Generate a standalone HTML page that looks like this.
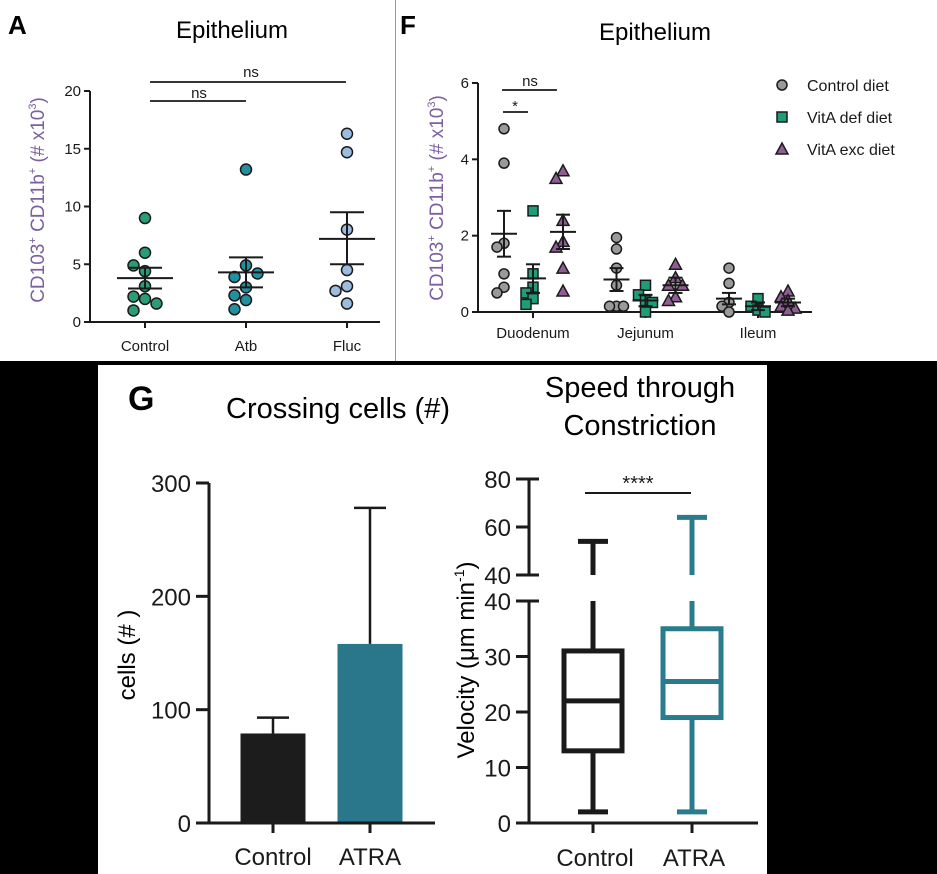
<!DOCTYPE html>
<html><head><meta charset="utf-8"><style>
html,body{margin:0;padding:0;background:#000;}
svg{display:block;font-family:"Liberation Sans",Arial,sans-serif;}
</style></head><body>
<svg id="fig" width="937" height="874" viewBox="0 0 937 874" xmlns="http://www.w3.org/2000/svg">
<rect x="0" y="0" width="937" height="874" fill="#000"/>
<rect x="0" y="0" width="937" height="361" fill="#fff"/>
<line x1="395.5" y1="0" x2="395.5" y2="361" stroke="#999" stroke-width="1"/>
<rect x="98" y="365" width="669" height="509" fill="#fff"/>

<text x="8" y="34" font-size="26" font-weight="bold">A</text>
<text x="232" y="38" font-size="24" text-anchor="middle">Epithelium</text>
<text transform="translate(44,200) rotate(-90)" font-size="19" fill="#7b5fa0" text-anchor="middle">CD103<tspan font-size="11" dy="-8">+</tspan><tspan dy="8"> CD11b</tspan><tspan font-size="11" dy="-8">+</tspan><tspan dy="8"> (# x10</tspan><tspan font-size="11" dy="-8">3</tspan><tspan dy="8">)</tspan></text>

<text x="400" y="34" font-size="26" font-weight="bold">F</text>
<text x="655" y="40" font-size="24" text-anchor="middle">Epithelium</text>
<text transform="translate(443,198) rotate(-90)" font-size="19" fill="#7b5fa0" text-anchor="middle">CD103<tspan font-size="11" dy="-8">+</tspan><tspan dy="8"> CD11b</tspan><tspan font-size="11" dy="-8">+</tspan><tspan dy="8"> (# x10</tspan><tspan font-size="11" dy="-8">3</tspan><tspan dy="8">)</tspan></text>

<text x="128" y="410" font-size="34" font-weight="bold">G</text>
<text x="338" y="418" font-size="29" text-anchor="middle">Crossing cells (#)</text>
<text x="640" y="397" font-size="29" text-anchor="middle">Speed through</text>
<text x="640" y="435" font-size="29" text-anchor="middle">Constriction</text>
<text transform="translate(135,655) rotate(-90)" font-size="24" text-anchor="middle">cells (# )</text>
<text transform="translate(474,660) rotate(-90)" font-size="24" text-anchor="middle">Velocity (μm min<tspan font-size="14" dy="-10">-1</tspan><tspan dy="10">)</tspan></text>
<g id="plots"></g>
</svg>
<script>
// ---------- Panel A data ----------
const aCategories = ["Control","Atb","Fluc"];
const aValues = [
  [9,6,4.9,4.4,3.1,2.2,2.0,1.6,1.0],
  [13.2,4.9,3.9,4.2,3.0,2.3,1.9,1.1],
  [16.3,14.7,8.0,4.5,3.1,2.7,1.6]
];
const aMeans = [3.8,4.3,7.2];
const aSemHi = [4.7,5.6,9.5];
const aSemLo = [2.9,3.0,5.0];
const aTicks = [0,5,10,15,20];
// ---------- Panel F data ----------
const fCategories = ["Duodenum","Jejunum","Ileum"];
const fSeries = ["Control diet","VitA def diet","VitA exc diet"];
const fControl = [[4.8,3.9,1.8,1.7,1.0,0.65,0.5],[1.95,1.65,1.15,0.7,0.15,0.15,0.15],[1.15,0.75,0.25,0.15,0.0]];
const fDef = [[2.65,1.0,0.65,0.5,0.35,0.2],[0.7,0.45,0.3,0.25,0.0],[0.35,0.15,0.05,0.0]];
const fExc = [[3.7,3.5,2.4,1.85,1.7,1.15,0.55],[1.25,0.9,0.7,0.7,0.4,0.3],[0.55,0.4,0.3,0.15,0.1,0.05]];
const fMeans = [[2.05,0.88,2.1],[0.85,0.3,0.7],[0.35,0.15,0.25]];
const fSemHi = [[2.65,1.25,2.55],[1.15,0.45,0.9],[0.5,0.25,0.35]];
const fSemLo = [[1.45,0.5,1.65],[0.55,0.15,0.5],[0.2,0.05,0.15]];
const fTicks = [0,2,4,6];
// ---------- Panel G data ----------
const gCategories = ["Control","ATRA"];
const gBarValues = [79,158];
const gBarErr = [93,278];
const gBarTicks = [0,100,200,300];
const gBoxMin = [2,2];
const gBoxQ1 = [13,19];
const gBoxMed = [22,25.5];
const gBoxQ3 = [31,35];
const gBoxMax = [54,64];
const gLowTicks = [0,10,20,30,40];
const gHighTicks = [40,60,80];

const NS="http://www.w3.org/2000/svg";
const root=document.getElementById('plots');
function mk(tag,attrs,parent){const e=document.createElementNS(NS,tag);for(const k in attrs)e.setAttribute(k,attrs[k]);(parent||root).appendChild(e);return e;}
function line(x1,y1,x2,y2,w,c,p){return mk('line',{x1,y1,x2,y2,stroke:c||'#1a1a1a','stroke-width':w||2},p);}
function txt(x,y,s,size,anchor,p){const t=mk('text',{x,y,'font-size':size,'text-anchor':anchor||'middle',fill:'#1a1a1a'},p);t.textContent=s;return t;}

// jitter offsets for dot layout (layout, not data)
function spread(vals,step,r){const offs=[];const placed=[];vals.forEach(v=>{let o=0,k=0;const cand=[0,-1,1,-2,2,-3,3];for(k of cand){o=k*step;if(!placed.some(p=>Math.abs(p.o-o)<step*0.9&&Math.abs(p.v-v)<r))break;}placed.push({o,v});offs.push(o);});return offs;}

// ===== Panel A =====
(function(){
const g=mk('g',{});


const x0=90,x1=380,yB=322,yT=91;
const y=v=>yB-(v-0)/(20-0)*(yB-yT);
const xc=i=>145+i*101;
line(x0,yT,x0,yB+1,2,'#1a1a1a',g);line(x0-1,yB,x1,yB,2,'#1a1a1a',g);
aTicks.forEach(t=>{line(x0-6,y(t),x0,y(t),2,'#1a1a1a',g);const l=txt(x0-9,y(t)+5,String(t),15,'end',g);});
const cols=['#2a9d78','#2190a0','#9dbde0'];
aCategories.forEach((c,i)=>{
  line(xc(i),yB,xc(i),yB+6,2,'#1a1a1a',g);
  const l=txt(xc(i),yB+29,c,15,'middle',g);
  const offs=spread(aValues[i],11.5,1.1);
  aValues[i].forEach((v,j)=>{const d=mk('circle',{cx:xc(i)+offs[j],cy:y(v),r:5.5,fill:cols[i],stroke:'#1a1a1a','stroke-width':1.5},g);
    
    });
  line(xc(i)-28,y(aMeans[i]),xc(i)+28,y(aMeans[i]),2,'#1a1a1a',g);
  line(xc(i),y(aSemLo[i]),xc(i),y(aSemHi[i]),2,'#1a1a1a',g);
  line(xc(i)-17,y(aSemLo[i]),xc(i)+17,y(aSemLo[i]),2,'#1a1a1a',g);
  line(xc(i)-17,y(aSemHi[i]),xc(i)+17,y(aSemHi[i]),2,'#1a1a1a',g);
});
line(150,101,246,101,1.8,'#1a1a1a',g);txt(199,98,'ns',15,'middle',g);
line(150,82,346,82,1.8,'#1a1a1a',g);txt(251,77,'ns',15,'middle',g);
})();

// ===== Panel F =====
(function(){
const g=mk('g',{});


const x0=478,x1=812,yB=312,yT=83;
const y=v=>yB-v/6*(yB-yT);
const xc=i=>533+i*112.5;
line(x0,yT,x0,yB+1,2,'#1a1a1a',g);line(x0-1,yB,x1,yB,2,'#1a1a1a',g);
fTicks.forEach(t=>{line(x0-6,y(t),x0,y(t),2,'#1a1a1a',g);const l=txt(x0-9,y(t)+5,String(t),15,'end',g);});
const sets=[fControl,fDef,fExc];const fills=['#9a9a9a','#1f9c78','#8e5d93'];const gOff=[-29,0,30];
function marker(type,cx,cy,fill,p){
  if(type===0)return mk('circle',{cx,cy,r:5,fill,stroke:'#1a1a1a','stroke-width':1.5},p);
  if(type===1)return mk('rect',{x:cx-5,y:cy-5,width:10,height:10,fill,stroke:'#1a1a1a','stroke-width':1.5},p);
  return mk('polygon',{points:`${cx},${cy-6} ${cx+6},${cy+5} ${cx-6},${cy+5}`,fill,stroke:'#1a1a1a','stroke-width':1.5},p);
}
fCategories.forEach((c,i)=>{
  line(xc(i),yB,xc(i),yB+6,2,'#1a1a1a',g);
  const l=txt(xc(i),yB+26,c,15,'middle',g);
  sets.forEach((s,k)=>{
    const cx=xc(i)+gOff[k];
    const offs=spread(s[i],7,0.25);
    s[i].forEach((v,j)=>{const m=marker(k,cx+offs[j],y(v),fills[k],g);
      
      });
    line(cx-13,y(fMeans[i][k]),cx+13,y(fMeans[i][k]),2,'#1a1a1a',g);
    line(cx,y(fSemLo[i][k]),cx,y(fSemHi[i][k]),2,'#1a1a1a',g);
    line(cx-7,y(fSemLo[i][k]),cx+7,y(fSemLo[i][k]),2,'#1a1a1a',g);
    line(cx-7,y(fSemHi[i][k]),cx+7,y(fSemHi[i][k]),2,'#1a1a1a',g);
  });
});
line(502,90,557,90,1.8,'#1a1a1a',g);txt(530,86,'ns',15,'middle',g);
line(503,112,528,112,1.8,'#1a1a1a',g);txt(515,111,'*',15,'middle',g);
fSeries.forEach((s,k)=>{const cy=85+k*32;const m=marker(k,782,cy,fills[k],g);
  
  
  const t=txt(807,cy+6,s,16,'start',g);
  
  });
})();

// ===== Panel G bars =====
(function(){
const g=mk('g',{});


const x0=209,x1=435,yB=823,yT=483;
const y=v=>yB-v/300*(yB-yT);
const xc=i=>273+i*97;
const cols=['#1c1c1c','#2a778b'];
gCategories.forEach((c,i)=>{
  line(xc(i),y(gBarValues[i]),xc(i),y(gBarErr[i]),2.5,'#1a1a1a',g);
  line(xc(i)-16,y(gBarErr[i]),xc(i)+16,y(gBarErr[i]),2.5,'#1a1a1a',g);
  const b=mk('rect',{x:xc(i)-32.5,y:y(gBarValues[i]),width:65,height:yB-y(gBarValues[i]),fill:cols[i]},g);
  
  
  line(xc(i),yB,xc(i),yB+10,3,'#1a1a1a',g);
  const l=txt(xc(i),yB+42,c,24,'middle',g);
});
line(x0,yT,x0,yB+1.5,3,'#1a1a1a',g);line(x0-1.5,yB,x1,yB,3,'#1a1a1a',g);
gBarTicks.forEach(t=>{line(x0-13,y(t),x0,y(t),3,'#1a1a1a',g);const l=txt(x0-18,y(t)+9,String(t),24,'end',g);});
})();

// ===== Panel G box plot =====
(function(){
const g=mk('g',{});


const x0=529,x1=758;
const yL=v=>823-v/40*(823-601);      // lower segment 0..40
const yH=v=>575-(v-40)/40*(575-479); // upper segment 40..80
const yy=v=>v<=40?yL(v):yH(v);
const xc=i=>593+i*99;
const cols=['#1a1a1a','#2a7b8e'];
gCategories.forEach((c,i)=>{
  const col=cols[i],w=5,cx=xc(i),hw=29;
  // lower whisker
  line(cx,yy(gBoxMin[i]),cx,yy(gBoxQ1[i]),w,col,g);
  line(cx-15,yy(gBoxMin[i]),cx+15,yy(gBoxMin[i]),w,col,g);
  // upper whisker (broken)
  const top=gBoxMax[i];
  line(cx,yy(gBoxQ3[i]),cx,yL(Math.min(top,40)),w,col,g);
  if(top>40){line(cx,yH(40),cx,yH(top),w,col,g);line(cx-15,yH(top),cx+15,yH(top),w,col,g);}
  const b=mk('rect',{x:cx-hw,y:yy(gBoxQ3[i]),width:hw*2,height:yy(gBoxQ1[i])-yy(gBoxQ3[i]),fill:'#fff',stroke:col,'stroke-width':w},g);
  
  
  line(cx-hw,yy(gBoxMed[i]),cx+hw,yy(gBoxMed[i]),w,col,g);
  line(cx,823,cx,833,3,'#1a1a1a',g);
  const l=txt(cx+2,866,c,24,'middle',g);
});
line(x0,yL(40),x0,824.5,3,'#1a1a1a',g);line(x0-1.5,823,x1,823,3,'#1a1a1a',g);
line(x0,yH(80),x0,yH(40),3,'#1a1a1a',g);
gLowTicks.forEach(t=>{line(x0-13,yL(t),x0,yL(t),3,'#1a1a1a',g);line(x0,yL(40),x0+10,yL(40),3,'#1a1a1a',g);const l=txt(x0-18,yL(t)+9,String(t),24,'end',g);});
gHighTicks.forEach(t=>{line(x0-13,yH(t),x0,yH(t),3,'#1a1a1a',g);const l=txt(x0-18,yH(t)+9,String(t),24,'end',g);});
line(x0,yH(40),x0+10,yH(40),3,'#1a1a1a',g);
line(x0,yH(80),x0+10,yH(80),3,'#1a1a1a',g);
line(585,493,691,493,2,'#1a1a1a',g);
const s=txt(638,490,'****',20,'middle',g);
})();
</script>
</body></html>
